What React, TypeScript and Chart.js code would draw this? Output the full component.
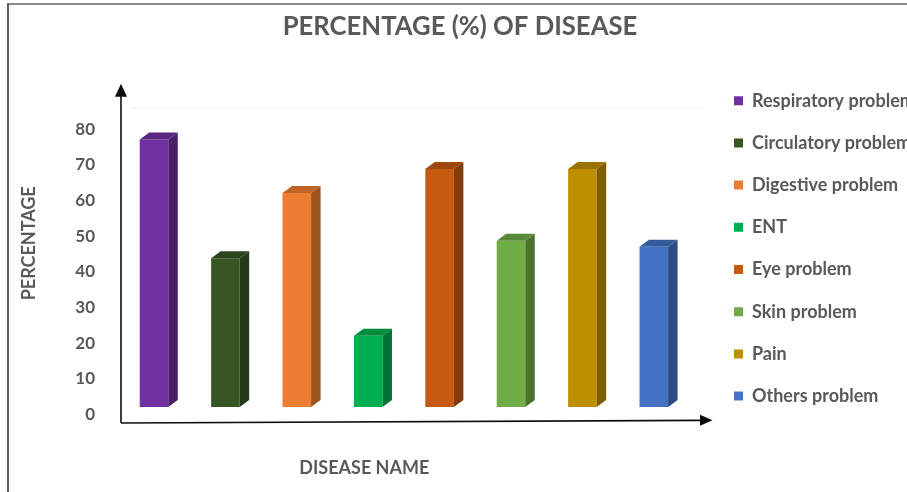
import React, { useEffect, useRef } from "react";
import { Chart, registerables } from "chart.js";

Chart.register(...registerables);

// Disease categories and their share in percent
const diseases = [
  "Respiratory problem",
  "Circulatory problem",
  "Digestive problem",
  "ENT",
  "Eye problem",
  "Skin problem",
  "Pain",
  "Others problem",
];
const percentages = [75, 41.7, 60, 20, 66.7, 46.6, 66.7, 44.9];
const yTicks = [0, 10, 20, 30, 40, 50, 60, 70, 80];

const barColors = [
  "#7030A0",
  "#375623",
  "#ED7D31",
  "#00B050",
  "#C55A11",
  "#70AD47",
  "#BF8F00",
  "#4472C4",
];

const TITLE = "PERCENTAGE (%) OF DISEASE";
const X_TITLE = "DISEASE NAME";
const Y_TITLE = "PERCENTAGE";
const TEXT = "#595959";
const FONT = "Lato, 'Open Sans', sans-serif";

// Depth of the extruded columns
const DEPTH_X = 9.5;
const DEPTH_Y = 7;

function shade(hex: string, f: number) {
  const n = parseInt(hex.slice(1), 16);
  const r = Math.round(((n >> 16) & 255) * f);
  const g = Math.round(((n >> 8) & 255) * f);
  const b = Math.round((n & 255) * f);
  return `rgb(${r},${g},${b})`;
}

function arrowHead(
  ctx: CanvasRenderingContext2D,
  tipX: number,
  tipY: number,
  dirX: number,
  dirY: number,
  len: number,
  half: number
) {
  const bx = tipX - dirX * len;
  const by = tipY - dirY * len;
  ctx.beginPath();
  ctx.moveTo(tipX, tipY);
  ctx.lineTo(bx - dirY * half, by + dirX * half);
  ctx.lineTo(bx + dirY * half, by - dirX * half);
  ctx.closePath();
  ctx.fill();
}

const columns3d = {
  id: "columns3d",
  beforeDraw(chart: any) {
    const { ctx, width, height, chartArea } = chart;
    ctx.save();
    ctx.fillStyle = "#ffffff";
    ctx.fillRect(0, 0, width, height);
    // outer frame
    ctx.strokeStyle = "#8a8a8a";
    ctx.lineWidth = 2;
    ctx.beginPath();
    ctx.moveTo(7, 4);
    ctx.lineTo(width, 4);
    ctx.stroke();
    ctx.strokeStyle = "#262626";
    ctx.lineWidth = 1.5;
    ctx.beginPath();
    ctx.moveTo(8, 4);
    ctx.lineTo(8, height);
    ctx.stroke();
    // faint top edge of the back wall
    ctx.strokeStyle = "#f0f0f0";
    ctx.lineWidth = 1;
    ctx.beginPath();
    ctx.moveTo(chartArea.left + 12, chartArea.top - 13.5);
    ctx.lineTo(chartArea.right + 15, chartArea.top - 13.5);
    ctx.stroke();
    ctx.restore();
  },
  afterDatasetsDraw(chart: any) {
    const { ctx, chartArea } = chart;
    const meta = chart.getDatasetMeta(0);
    ctx.save();
    meta.data.forEach((bar: any, i: number) => {
      const { x, y, base, width } = bar.getProps(["x", "y", "base", "width"], true);
      const left = x - width / 2;
      const right = x + width / 2;
      const color = barColors[i];
      // side face
      ctx.fillStyle = shade(color, 0.66);
      ctx.beginPath();
      ctx.moveTo(right, y);
      ctx.lineTo(right + DEPTH_X, y - DEPTH_Y);
      ctx.lineTo(right + DEPTH_X, base - DEPTH_Y);
      ctx.lineTo(right, base);
      ctx.closePath();
      ctx.fill();
      // top face
      ctx.fillStyle = shade(color, 0.8);
      ctx.beginPath();
      ctx.moveTo(left, y);
      ctx.lineTo(left + DEPTH_X, y - DEPTH_Y);
      ctx.lineTo(right + DEPTH_X, y - DEPTH_Y);
      ctx.lineTo(right, y);
      ctx.closePath();
      ctx.fill();
    });

    // axis lines with arrow heads
    const ys = chart.scales.y;
    const zeroY = ys.getPixelForValue(0);
    const topY = ys.getPixelForValue(80);
    const axisX = chartArea.left + 2.7;
    const cornerY = zeroY + 16;
    const yTip = topY - 38;
    const xTip = chartArea.right + 23;
    ctx.strokeStyle = "#0d0d0d";
    ctx.fillStyle = "#0d0d0d";
    ctx.lineWidth = 1.6;
    ctx.beginPath();
    ctx.moveTo(axisX, cornerY);
    ctx.lineTo(axisX, yTip + 12);
    ctx.stroke();
    arrowHead(ctx, axisX, yTip, 0, -1, 13, 6);
    ctx.beginPath();
    ctx.moveTo(axisX, cornerY);
    ctx.lineTo(xTip - 12, cornerY - 2.6);
    ctx.stroke();
    arrowHead(ctx, xTip, cornerY - 2.8, 1, 0, 12.5, 5.5);

    // axis titles
    ctx.fillStyle = TEXT;
    ctx.font = `bold 18px ${FONT}`;
    ctx.textAlign = "center";
    ctx.textBaseline = "middle";
    ctx.fillText(X_TITLE, chartArea.left + 246, zeroY + 61);
    ctx.save();
    ctx.translate(chartArea.left - 89.5, (chartArea.top + chartArea.bottom) / 2 - 21);
    ctx.rotate(-Math.PI / 2);
    ctx.fillText(Y_TITLE, 0, 0);
    ctx.restore();
    ctx.restore();
  },
};

export default function App() {
  const ref = useRef<HTMLCanvasElement>(null);

  useEffect(() => {
    const canvas = ref.current;
    if (!canvas) return;
    const chart = new Chart(canvas, {
      type: "bar",
      data: {
        labels: diseases,
        datasets: [
          {
            label: "Percentage",
            data: percentages,
            backgroundColor: barColors,
            borderWidth: 0,
            categoryPercentage: 1,
            barPercentage: 0.4,
          },
        ],
      },
      options: {
        responsive: false,
        animation: false,
        events: [],
        layout: { padding: { left: 13, right: 0, top: 4.8, bottom: 0 } },
        scales: {
          x: {
            type: "category",
            grid: { display: false, drawTicks: false },
            border: { display: false },
            ticks: { display: false },
            afterFit: (s: any) => {
              s.height = 85;
            },
          },
          y: {
            type: "linear",
            position: "left",
            min: 0,
            max: 80,
            grid: { display: false, drawTicks: false },
            border: { display: false },
            afterBuildTicks: (s: any) => {
              s.ticks = yTicks.map((v) => ({ value: v }));
            },
            ticks: {
              padding: 23.3,
              labelOffset: 7.5,
              color: TEXT,
              font: { family: FONT, size: 17, weight: "bold" },
            },
            afterFit: (s: any) => {
              s.width = 105.3;
            },
          },
          gutter: {
            type: "linear",
            position: "right",
            display: true,
            grid: { display: false, drawTicks: false },
            border: { display: false },
            ticks: { display: false },
            afterFit: (s: any) => {
              s.width = 20.3;
            },
          },
        },
        plugins: {
          title: {
            display: true,
            text: TITLE,
            color: TEXT,
            font: { family: FONT, size: 25.7, weight: "bold" },
            padding: { top: 6.8, bottom: 79.2 },
          },
          legend: {
            position: "right",
            align: "center",
            fullSize: true,
            maxWidth: 197.2,
            onClick: () => {},
            labels: {
              boxWidth: 9,
              boxHeight: 9,
              padding: 24.2,
              color: TEXT,
              font: { family: FONT, size: 18, weight: "bold" },
              generateLabels: () =>
                diseases.map((d, i) => ({
                  text: d,
                  fillStyle: barColors[i],
                  strokeStyle: barColors[i],
                  lineWidth: 0,
                  hidden: false,
                  index: i,
                  datasetIndex: 0,
                  fontColor: TEXT,
                })),
            },
          },
          tooltip: { enabled: false },
        },
      },
      plugins: [columns3d],
    } as any);
    return () => chart.destroy();
  }, []);

  return (
    <div
      style={{
        position: "absolute",
        left: 0,
        top: 0,
        width: 907,
        height: 492,
        overflow: "hidden",
        background: "#ffffff",
      }}
    >
      <canvas ref={ref} width={907} height={492} style={{ display: "block", width: 907, height: 492 }} />
    </div>
  );
}
